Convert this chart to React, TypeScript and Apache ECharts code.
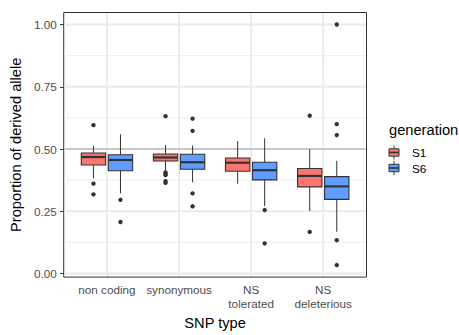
import React, { useEffect, useRef } from 'react';
import * as echarts from 'echarts';

const categories = ['non coding', 'synonymous', 'NS\ntolerated', 'NS\ndeleterious'];
const generations = ['S1', 'S6'];
const colors = ['#F8766D', '#619CFF'];

// [lower whisker, Q1, median, Q3, upper whisker] per category
const s1Stats = [
  [0.382, 0.436, 0.468, 0.484, 0.512],
  [0.414, 0.452, 0.466, 0.480, 0.516],
  [0.361, 0.411, 0.445, 0.464, 0.532],
  [0.251, 0.348, 0.392, 0.422, 0.499],
];
const s6Stats = [
  [0.322, 0.413, 0.456, 0.477, 0.559],
  [0.366, 0.419, 0.447, 0.479, 0.514],
  [0.271, 0.376, 0.415, 0.447, 0.543],
  [0.168, 0.298, 0.350, 0.389, 0.453],
];
const s1Outliers = [
  [0.596, 0.361, 0.318],
  [0.632, 0.406, 0.400, 0.395, 0.371, 0.364],
  [],
  [0.634, 0.167],
];
const s6Outliers = [
  [0.296, 0.207],
  [0.622, 0.573, 0.322, 0.270],
  [0.255, 0.121],
  [1.0, 0.600, 0.556, 0.134, 0.034],
];
const yTicks = [0, 0.25, 0.5, 0.75, 1];
const yMinorTicks = [0.125, 0.375, 0.625, 0.875];
const refLine = [0.5];

const FONT = 'Liberation Sans, Arial, Helvetica, sans-serif';
const DODGE = 0.1875;
const BOX_HALF = 0.16875;

export default function App() {
  const ref = useRef<HTMLDivElement>(null);
  useEffect(() => {
    if (!ref.current) return;
    const chart = echarts.init(ref.current, undefined, { renderer: 'svg' });

    const allVals: number[] = [];
    [s1Stats, s6Stats].forEach((s) => s.forEach((r) => allVals.push(...r)));
    [s1Outliers, s6Outliers].forEach((s) => s.forEach((r) => allVals.push(...r)));
    const dMin = Math.min(...allVals);
    const dMax = Math.max(...allVals);
    const pad = (dMax - dMin) * 0.05;
    const yLo = dMin - pad;
    const yHi = dMax + pad;

    const catPos = categories.map((_, i) => i + 1);

    const boxData = (stats: number[][]) => stats.map((r, i) => [catPos[i], ...r]);
    const outData = (outs: number[][]) => {
      const d: number[][] = [];
      outs.forEach((arr, i) => arr.forEach((v) => d.push([catPos[i], v])));
      return d;
    };

    const renderBox = (gi: number) => (params: any, api: any) => {
      const x = api.value(0);
      const unit = api.size([1, 0])[0];
      const cx = api.coord([x, 0])[0] + (gi === 0 ? -DODGE : DODGE) * unit;
      const hw = BOX_HALF * unit;
      const y = (k: number) => api.coord([x, api.value(k)])[1];
      const yLow = y(1), yQ1 = y(2), yMed = y(3), yQ3 = y(4), yHigh = y(5);
      const stroke = '#333333';
      return {
        type: 'group',
        children: [
          { type: 'line', shape: { x1: cx, y1: yHigh, x2: cx, y2: yQ3 }, style: { stroke, lineWidth: 1 } },
          { type: 'line', shape: { x1: cx, y1: yQ1, x2: cx, y2: yLow }, style: { stroke, lineWidth: 1 } },
          {
            type: 'rect',
            shape: { x: cx - hw, y: yQ3, width: 2 * hw, height: yQ1 - yQ3 },
            style: { fill: colors[gi], stroke, lineWidth: 1.1 },
          },
          { type: 'line', shape: { x1: cx - hw, y1: yMed, x2: cx + hw, y2: yMed }, style: { stroke, lineWidth: 2.2 } },
        ],
      };
    };

    const renderOut = (gi: number) => (params: any, api: any) => {
      const x = api.value(0);
      const unit = api.size([1, 0])[0];
      const p = api.coord([x, api.value(1)]);
      const cx = p[0] + (gi === 0 ? -DODGE : DODGE) * unit;
      return { type: 'circle', shape: { cx, cy: p[1], r: 2.2 }, style: { fill: '#333333' } };
    };

    const renderH = (w: number, color: string) => (params: any, api: any) => {
      const cs = params.coordSys;
      const yy = api.coord([api.value(0), api.value(1)])[1];
      return { type: 'line', shape: { x1: cs.x + 0.5, y1: yy, x2: cs.x + cs.width - 0.5, y2: yy }, style: { stroke: color, lineWidth: w } };
    };
    const renderV = (w: number, color: string) => (params: any, api: any) => {
      const cs = params.coordSys;
      const xx = api.coord([api.value(0), api.value(1)])[0];
      return { type: 'line', shape: { x1: xx, y1: cs.y + 0.5, x2: xx, y2: cs.y + cs.height - 0.5 }, style: { stroke: color, lineWidth: w } };
    };

    const keyY0 = 152.5;
    const keyStep = 15.5;
    const legendChildren: any[] = [
      { type: 'text', x: 389, y: 130, style: { text: 'generation', font: `14.67px ${FONT}`, fill: '#000', verticalAlign: 'middle' } },
    ];
    generations.forEach((g, i) => {
      const cy = keyY0 + i * keyStep;
      legendChildren.push(
        { type: 'line', shape: { x1: 394, y1: cy - 7, x2: 394, y2: cy + 7 }, style: { stroke: '#333333', lineWidth: 1 } },
        { type: 'rect', shape: { x: 389, y: cy - 3.7, width: 10, height: 7.4 }, style: { fill: colors[i], stroke: '#333333', lineWidth: 1 } },
        { type: 'line', shape: { x1: 389, y1: cy, x2: 399, y2: cy }, style: { stroke: '#333333', lineWidth: 1.6 } },
        { type: 'text', x: 412, y: cy, style: { text: g, font: `11.73px ${FONT}`, fill: '#000', verticalAlign: 'middle' } },
      );
    });

    chart.setOption({
      animation: false,
      backgroundColor: '#ffffff',
      textStyle: { fontFamily: FONT },
      grid: { left: 59.5, right: 92.5, top: 12.5, bottom: 51.5, show: true, borderColor: '#333333', borderWidth: 1, backgroundColor: '#ffffff' },
      xAxis: {
        type: 'value',
        min: 0.4,
        max: categories.length + 0.6,
        name: 'SNP type',
        nameLocation: 'middle',
        nameGap: 35,
        nameTextStyle: { fontSize: 14.67, color: '#000', fontFamily: FONT },
        axisLine: { show: false },
        axisTick: { show: true, customValues: catPos, length: 3.67, lineStyle: { color: '#333333', width: 1 } },
        axisLabel: {
          customValues: catPos,
          formatter: (v: number) => categories[Math.round(v) - 1] ?? '',
          fontSize: 11.73,
          color: '#4D4D4D',
          fontFamily: FONT,
          margin: 6,
          lineHeight: 13.5,
        },
        splitLine: { show: false },
      },
      yAxis: {
        type: 'value',
        min: yLo,
        max: yHi,
        name: 'Proportion of derived allele',
        nameLocation: 'middle',
        nameGap: 31,
        nameTextStyle: { fontSize: 14.67, color: '#000', fontFamily: FONT },
        axisLine: { show: false },
        axisTick: { show: true, customValues: yTicks, length: 3.67, lineStyle: { color: '#333333', width: 1 } },
        axisLabel: {
          customValues: yTicks,
          formatter: (v: number) => v.toFixed(2),
          fontSize: 11.73,
          color: '#4D4D4D',
          fontFamily: FONT,
          margin: 7,
        },
        splitLine: { show: false },
      },
      graphic: [{ type: 'group', children: legendChildren }],
      series: [
        { type: 'custom', name: 'minor', z: 1, silent: true, encode: { x: 0, y: 1 }, data: yMinorTicks.map((v) => [1, v]), renderItem: renderH(0.95, '#EBEBEB') },
        { type: 'custom', name: 'major', z: 1, silent: true, encode: { x: 0, y: 1 }, data: yTicks.map((v) => [1, v]), renderItem: renderH(1.9, '#EBEBEB') },
        { type: 'custom', name: 'vmajor', z: 1, silent: true, encode: { x: 0, y: 1 }, data: catPos.map((c) => [c, 0]), renderItem: renderV(1.9, '#EBEBEB') },
        { type: 'custom', name: 'ref', z: 1.5, silent: true, encode: { x: 0, y: 1 }, data: refLine.map((v) => [1, v]), renderItem: renderH(1.4, '#BEBEBE') },
        { type: 'custom', name: 'S1', z: 3, encode: { x: 0, y: [1, 2, 3, 4, 5] }, data: boxData(s1Stats), renderItem: renderBox(0) },
        { type: 'custom', name: 'S6', z: 3, encode: { x: 0, y: [1, 2, 3, 4, 5] }, data: boxData(s6Stats), renderItem: renderBox(1) },
        { type: 'custom', name: 'S1 outliers', z: 4, encode: { x: 0, y: 1 }, data: outData(s1Outliers), renderItem: renderOut(0) },
        { type: 'custom', name: 'S6 outliers', z: 4, encode: { x: 0, y: 1 }, data: outData(s6Outliers), renderItem: renderOut(1) },
      ],
    });
    return () => chart.dispose();
  }, []);
  return <div ref={ref} style={{ position: 'fixed', left: 0, top: 0, width: 459, height: 335 }} />;
}
